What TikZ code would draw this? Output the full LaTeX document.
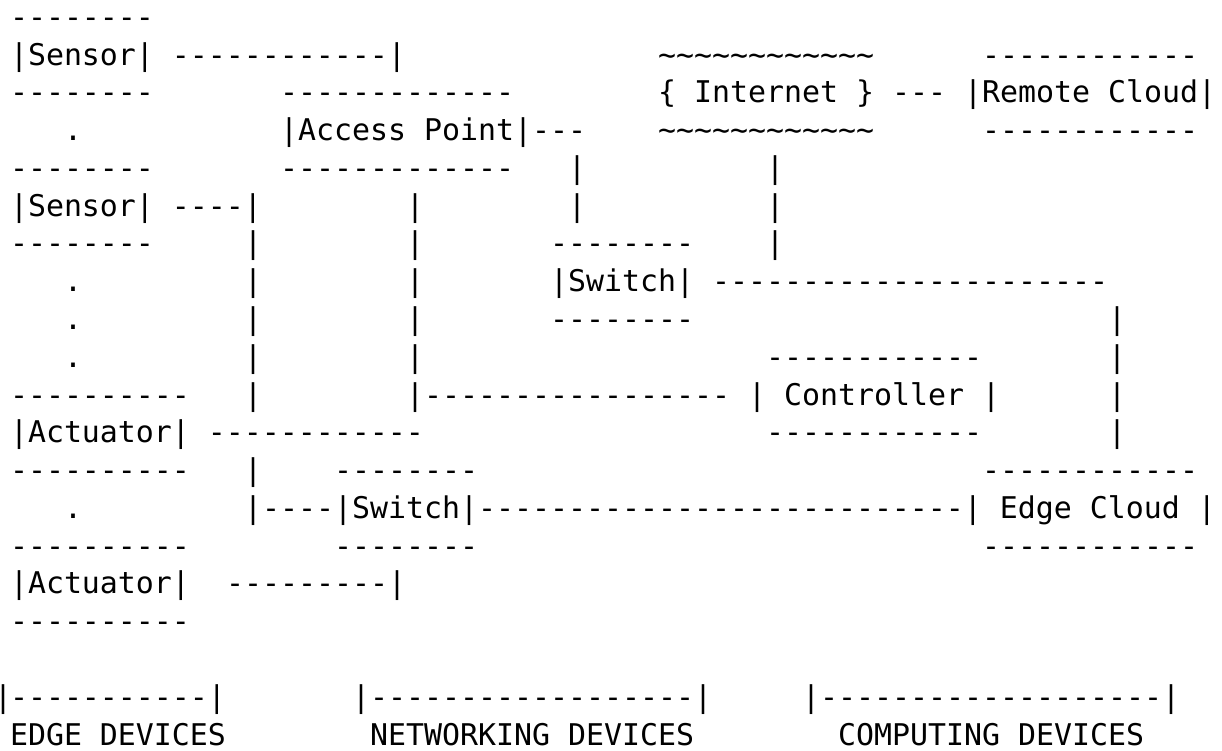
\documentclass[tikz,border=0pt]{standalone}
\usepackage{fontspec}
\setmonofont{DejaVu Sans Mono}
\ExplSyntaxOn
\cs_new:Npn \dsh #1 {\prg_replicate:nn{#1}{-}}
\cs_new:Npn \tls #1 {\prg_replicate:nn{#1}{\textasciitilde}}
\ExplSyntaxOff
\newcommand{\asciifont}{\ttfamily\fontsize{29.9pt}{37.78pt}\selectfont\frenchspacing}
\tikzset{asc/.style={anchor=base west, inner sep=0pt, outer sep=0pt, font=\asciifont, text=black}}
% #1 name, #2 column, #3 row, #4 text
\newcommand{\putrow}[4]{\node[asc] (#1) at ({18*#2-8},{-(65+(#3-2)*37.78)}) {#4};}
\begin{document}
\begin{tikzpicture}[x=1pt,y=1pt]
\fill[white] (0,0) rectangle (1222,-750);
\useasboundingbox (0,0) rectangle (1222,-750);
% row 1
\putrow{a1}{1}{1}{\dsh{8}}
% row 2
\putrow{a2}{1}{2}{|Sensor| \dsh{12}|}
\putrow{b2}{37}{2}{\tls{12}}
\putrow{c2}{55}{2}{\dsh{12}}
% row 3
\putrow{a3}{1}{3}{\dsh{8}}
\putrow{b3}{16}{3}{\dsh{13}}
\putrow{c3}{37}{3}{\{ Internet \} --- |Remote Cloud|}
% row 4
\putrow{a4}{4}{4}{.}
\putrow{b4}{16}{4}{|Access Point|---}
\putrow{c4}{37}{4}{\tls{12}}
\putrow{d4}{55}{4}{\dsh{12}}
% row 5
\putrow{a5}{1}{5}{\dsh{8}}
\putrow{b5}{16}{5}{\dsh{13}}
\putrow{c5}{32}{5}{|}
\putrow{d5}{43}{5}{|}
% row 6
\putrow{a6}{1}{6}{|Sensor| \dsh{4}|}
\putrow{b6}{23}{6}{|}
\putrow{c6}{32}{6}{|}
\putrow{d6}{43}{6}{|}
% row 7
\putrow{a7}{1}{7}{\dsh{8}}
\putrow{b7}{14}{7}{|}
\putrow{c7}{23}{7}{|}
\putrow{d7}{31}{7}{\dsh{8}}
\putrow{e7}{43}{7}{|}
% row 8
\putrow{a8}{4}{8}{.}
\putrow{b8}{14}{8}{|}
\putrow{c8}{23}{8}{|}
\putrow{d8}{31}{8}{|Switch| \dsh{22}}
% row 9
\putrow{a9}{4}{9}{.}
\putrow{b9}{14}{9}{|}
\putrow{c9}{23}{9}{|}
\putrow{d9}{31}{9}{\dsh{8}}
\putrow{e9}{62}{9}{|}
% row 10
\putrow{a10}{4}{10}{.}
\putrow{b10}{14}{10}{|}
\putrow{c10}{23}{10}{|}
\putrow{d10}{43}{10}{\dsh{12}}
\putrow{e10}{62}{10}{|}
% row 11
\putrow{a11}{1}{11}{\dsh{10}}
\putrow{b11}{14}{11}{|}
\putrow{c11}{23}{11}{|\dsh{17}}
\putrow{d11}{42}{11}{| Controller |}
\putrow{e11}{62}{11}{|}
% row 12
\putrow{a12}{1}{12}{|Actuator| \dsh{12}}
\putrow{b12}{43}{12}{\dsh{12}}
\putrow{c12}{62}{12}{|}
% row 13
\putrow{a13}{1}{13}{\dsh{10}}
\putrow{b13}{14}{13}{|}
\putrow{c13}{19}{13}{\dsh{8}}
\putrow{d13}{55}{13}{\dsh{12}}
% row 14
\putrow{a14}{4}{14}{.}
\putrow{b14}{14}{14}{|\dsh{4}|Switch|\dsh{27}| Edge Cloud |}
% row 15
\putrow{a15}{1}{15}{\dsh{10}}
\putrow{b15}{19}{15}{\dsh{8}}
\putrow{c15}{55}{15}{\dsh{12}}
% row 16
\putrow{a16}{1}{16}{|Actuator|}
\putrow{b16}{13}{16}{\dsh{9}|}
% row 17
\putrow{a17}{1}{17}{\dsh{10}}
% row 19
\node[asc, anchor=base] (a19bar) at (3.2,{-(65+17*37.78)}) {\makebox[3.4pt]{|}};
\putrow{a19}{1}{19}{\dsh{11}|}
\putrow{b19}{20}{19}{|\dsh{18}|}
\putrow{c19}{45}{19}{|\dsh{19}|}
% row 20
\putrow{a20}{1}{20}{EDGE DEVICES}
\putrow{b20}{21}{20}{NETWORKING DEVICES}
\putrow{c20}{47}{20}{COMPUTING DEVICES}
\end{tikzpicture}
\end{document}
